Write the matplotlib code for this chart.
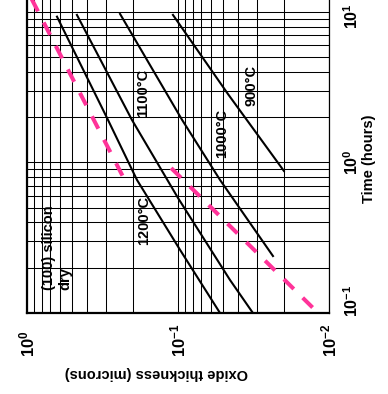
import numpy as np
import matplotlib
matplotlib.use("Agg")
import matplotlib.pyplot as plt

plt.rcParams["font.family"] = ["Liberation Sans", "DejaVu Sans"]
plt.rcParams["font.weight"] = "bold"
plt.rcParams["mathtext.fontset"] = "custom"
plt.rcParams["mathtext.rm"] = "Liberation Sans:bold"
plt.rcParams["mathtext.it"] = "Liberation Sans:bold"
plt.rcParams["mathtext.bf"] = "Liberation Sans:bold"
plt.rcParams["lines.scale_dashes"] = False

# dry oxidation of (100) silicon: oxide thickness (microns) vs time (hours)
thick_1200 = [0.633, 0.291, 0.187, 0.097, 0.0527]
time_1200 = [9.3, 1.92, 0.766, 0.263, 0.1]
thick_1100 = [0.467, 0.202, 0.100, 0.0453, 0.0319]
time_1100 = [9.55, 1.92, 0.581, 0.166, 0.1]
thick_1000 = [0.242, 0.094, 0.0527, 0.0235]
time_1000 = [9.7, 1.92, 0.766, 0.239]
thick_900 = [0.108, 0.0467, 0.0199]
time_900 = [9.55, 2.85, 0.879]

# pink dashed reference curve (two pieces)
pink_thick = [0.94, 0.231, np.nan, 0.111, 0.0118]
pink_time = [12.4, 0.802, np.nan, 0.918, 0.1]

curve_labels = ["1200°C", "1100°C", "1000°C", "900°C"]
label_thick = [0.168, 0.171, 0.0511, 0.0324]
label_time = [0.415, 2.90, 1.57, 3.27]

x_ticks = [1, 0.1, 0.01]
x_ticklabels = ["$10^{0}$", "$10^{-1}$", "$10^{-2}$"]
y_tickpos = [9.33, 1.0, 0.12]
y_ticklabels = ["$10^{1}$", "$10^{0}$", "$10^{-1}$"]

fig = plt.figure(figsize=(3.88, 3.94), dpi=100)
ax = fig.add_axes([27 / 388, 81 / 394, 302 / 388, 313 / 394])

ax.set_xscale("log")
ax.set_yscale("log")
ax.set_xlim(1, 0.01)
ax.set_ylim(0.1, 12)

ax.grid(which="both", color="black", lw=0.75)
ax.tick_params(which="both", length=0, labelbottom=False, labelleft=False)
for side in ["left", "bottom"]:
    ax.spines[side].set_linewidth(1.6)
ax.spines["right"].set_linewidth(0.9)
ax.spines["top"].set_visible(False)

for th, tm in [(thick_1200, time_1200), (thick_1100, time_1100),
               (thick_1000, time_1000), (thick_900, time_900)]:
    ax.plot(th, tm, color="black", lw=1.5, zorder=3)

ax.plot(pink_thick, pink_time, color="#ff3399", lw=2.9,
        dashes=(10, 9), zorder=4)

for lab, tx, ty in zip(curve_labels, label_thick, label_time):
    ax.text(tx, ty, lab, rotation=90, ha="center", va="center",
            fontsize=10.5, fontweight="bold", zorder=5)

ax.text(0.628, 0.142, "(100) silicon\ndry", rotation=90, ha="center",
        va="bottom", multialignment="left", fontsize=10.5,
        fontweight="bold", zorder=5)

for xv, lab in zip(x_ticks, x_ticklabels):
    ax.text(xv, -0.1406, lab, transform=ax.get_xaxis_transform(),
            rotation=90, ha="center", va="bottom", fontsize=12,
            clip_on=False)
for yv, lab in zip(y_tickpos, y_ticklabels):
    ax.text(1.075, yv, lab, transform=ax.get_yaxis_transform(),
            rotation=90, ha="center", va="center", fontsize=11.5,
            clip_on=False)

fig.text(369 / 388, 1 - 159 / 394, "Time (hours)", rotation=90,
         ha="center", va="center", fontsize=10.5, fontweight="bold")
fig.text(156 / 388, 1 - 373 / 394, "Oxide thickness (microns)",
         rotation=180, ha="center", va="center", fontsize=10.5,
         fontweight="bold")

fig.savefig("out.png", dpi=100, facecolor="white")
